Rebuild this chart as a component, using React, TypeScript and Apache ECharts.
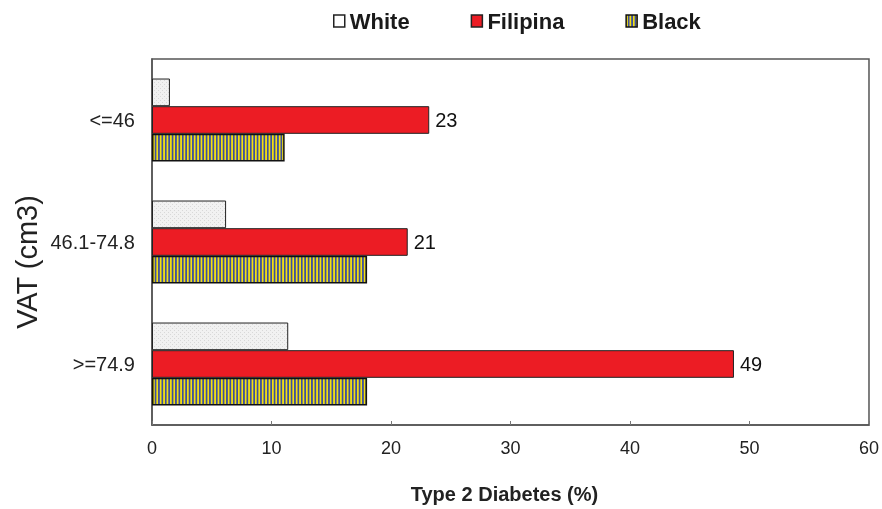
import React, { useEffect, useRef } from "react";
import * as echarts from "echarts";

const categories = [">=74.9", "46.1-74.8", "<=46"];
const whiteValues = [11.4, 6.2, 1.5];
const filipinaValues = [48.7, 21.4, 23.2];
const blackValues = [18.0, 18.0, 11.1];
const xTicks = [0, 10, 20, 30, 40, 50, 60];

function makeStripes(): HTMLCanvasElement {
  const c = document.createElement("canvas");
  c.width = 20;
  c.height = 4;
  const ctx = c.getContext("2d")!;
  ctx.fillStyle = "#f2df10";
  ctx.fillRect(0, 0, 10, 4);
  ctx.fillStyle = "#3d4f9e";
  ctx.fillRect(10, 0, 10, 4);
  return c;
}

function makeDots(): HTMLCanvasElement {
  const c = document.createElement("canvas");
  c.width = 4;
  c.height = 4;
  const ctx = c.getContext("2d")!;
  ctx.fillStyle = "#f1f1f1";
  ctx.fillRect(0, 0, 4, 4);
  ctx.fillStyle = "#d8d8d8";
  ctx.fillRect(0, 0, 1, 1);
  ctx.fillRect(2, 2, 1, 1);
  return c;
}

export default function App() {
  const ref = useRef<HTMLDivElement>(null);
  useEffect(() => {
    if (!ref.current) return;
    const chart = echarts.init(ref.current, null, { renderer: "svg" });
    const stripe = { image: makeStripes(), repeat: "repeat", scaleX: 0.17, scaleY: 1 } as any;
    const dots = { image: makeDots(), repeat: "repeat" } as any;
    const font = "'Liberation Sans', Arial, sans-serif";
    chart.setOption({
      animation: false,
      textStyle: { fontFamily: font },
      legend: {
        top: 5,
        left: 328,
        icon: "rect",
        itemWidth: 11,
        itemHeight: 12,
        itemGap: 61,
        data: [
          { name: "White", itemStyle: { color: "#ffffff", borderColor: "#222", borderWidth: 1.5 } },
          { name: "Filipina", itemStyle: { borderColor: "#222", borderWidth: 1.5 } },
          { name: "Black", itemStyle: { borderColor: "#111", borderWidth: 1.5 } },
        ],
        textStyle: { fontSize: 22, fontWeight: "bold", color: "#1a1a1a", fontFamily: font },
      },
      grid: {
        left: 152,
        right: 11,
        top: 59,
        bottom: 83,
        show: true,
        borderColor: "#555",
        borderWidth: 1.5,
        backgroundColor: "transparent",
      },
      xAxis: {
        type: "value",
        min: 0,
        max: 60,
        interval: 10,
        splitLine: { show: false },
        axisLine: { show: true, lineStyle: { color: "#555", width: 1.5 } },
        axisTick: { show: true, inside: true, length: 4, lineStyle: { color: "#777" } },
        axisLabel: { fontSize: 18, color: "#222", margin: 14, formatter: (v: number) => (xTicks.includes(v) ? String(v) : "") },
        name: "Type 2 Diabetes (%)",
        nameLocation: "middle",
        nameGap: 59,
        nameTextStyle: { fontSize: 20, fontWeight: "bold", color: "#222", padding: [0, 12, 0, 0] },
      },
      yAxis: {
        type: "category",
        data: categories,
        axisLine: { show: true, lineStyle: { color: "#555", width: 1.5 } },
        axisTick: { show: false },
        axisLabel: { fontSize: 20, color: "#222", margin: 17 },
      },
      graphic: [
        {
          type: "text",
          x: 27,
          y: 262,
          rotation: Math.PI / 2,
          style: {
            text: "VAT (cm3)",
            fontSize: 29,
            fill: "#222",
            fontFamily: font,
            align: "center",
            verticalAlign: "middle",
          },
        },
      ],
      series: [
        {
          name: "White",
          type: "bar",
          data: whiteValues,
          barGap: "0%",
          barCategoryGap: "32%",
          itemStyle: { color: dots, borderColor: "#222", borderWidth: 1 },
        },
        {
          name: "Filipina",
          type: "bar",
          data: filipinaValues,
          barGap: "0%",
          barCategoryGap: "32%",
          itemStyle: { color: "#ec1c24", borderColor: "#222", borderWidth: 1 },
          label: {
            show: true,
            position: "right",
            distance: 6,
            fontSize: 20,
            color: "#111",
            formatter: (p: any) => String(Math.round(p.value)),
          },
        },
        {
          name: "Black",
          type: "bar",
          data: blackValues,
          barGap: "0%",
          barCategoryGap: "32%",
          itemStyle: { color: stripe, borderColor: "#111", borderWidth: 1.5 },
        },
      ],
    });
    return () => chart.dispose();
  }, []);
  return (
    <div
      ref={ref}
      style={{ position: "fixed", left: 0, top: 0, width: 882, height: 509 }}
    />
  );
}
